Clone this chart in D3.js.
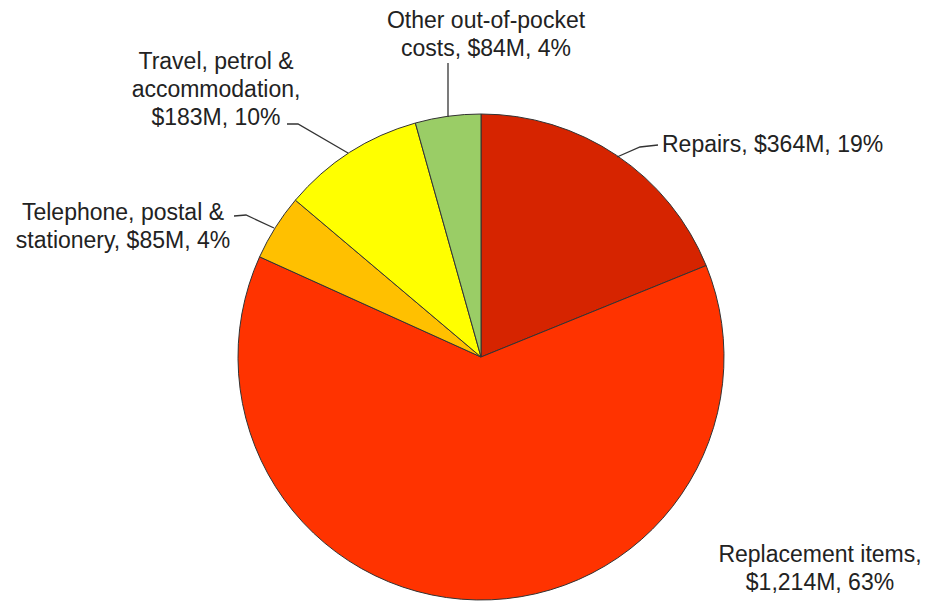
<!DOCTYPE html>
<html><head><meta charset="utf-8">
<script src="https://cdn.jsdelivr.net/npm/d3@7"></script>
<style>body{margin:0;background:#fff;}svg{display:block;}</style>
</head><body>
<svg id="c" width="931" height="602"></svg>
<script>
const categories = ["Repairs", "Replacement items", "Telephone, postal & stationery", "Travel, petrol & accommodation", "Other out-of-pocket costs"];
const values = [364, 1214, 85, 183, 84];
const colors = ["#d62400", "#ff3300", "#ffc000", "#ffff00", "#9acd66"];
const labelLines = [
  ["Repairs, $364M, 19%"],
  ["Replacement items,", "$1,214M, 63%"],
  ["Telephone, postal &", "stationery, $85M, 4%"],
  ["Travel, petrol &", "accommodation,", "$183M, 10%"],
  ["Other out-of-pocket", "costs, $84M, 4%"]
];
const labelPos = [
  {x: 662, y: 152, anchor: "start"},
  {x: 820, y: 562, anchor: "middle"},
  {x: 123, y: 220, anchor: "middle"},
  {x: 216, y: 69, anchor: "middle"},
  {x: 486, y: 28, anchor: "middle"}
];
const leaders = [
  [[617,157],[640,147],[658,145]],
  null,
  [[274,228],[246,215],[234,216]],
  [[348,153],[298,124],[287,124]],
  [[448,117],[448,63]]
];
const cx = 481, cy = 357, R = 243;
const svg = d3.select("#c");
const g = svg.append("g").attr("transform", `translate(${cx},${cy})`);
const pie = d3.pie().sort(null).value(d => d)(values);
const arc = d3.arc().innerRadius(0).outerRadius(R);
g.selectAll("path.s").data(pie).join("path")
  .attr("class","s")
  .attr("d", arc)
  .attr("fill", (d,i) => colors[i])
  .attr("stroke", "#333")
  .attr("stroke-width", 1);
const line = d3.line();
leaders.forEach(l => {
  if (!l) return;
  svg.append("path").attr("d", line(l)).attr("fill","none").attr("stroke","#333").attr("stroke-width",1.3);
});
labelLines.forEach((lines, i) => {
  const p = labelPos[i];
  const t = svg.append("text")
    .attr("x", p.x).attr("y", p.y)
    .attr("text-anchor", p.anchor)
    .attr("font-family", "Liberation Sans, Arial, sans-serif")
    .attr("font-size", 23)
    .attr("fill", "#222");
  lines.forEach((s, k) => {
    t.append("tspan").attr("x", p.x).attr("dy", k === 0 ? 0 : 28).text(s);
  });
});
</script>
</body></html>
